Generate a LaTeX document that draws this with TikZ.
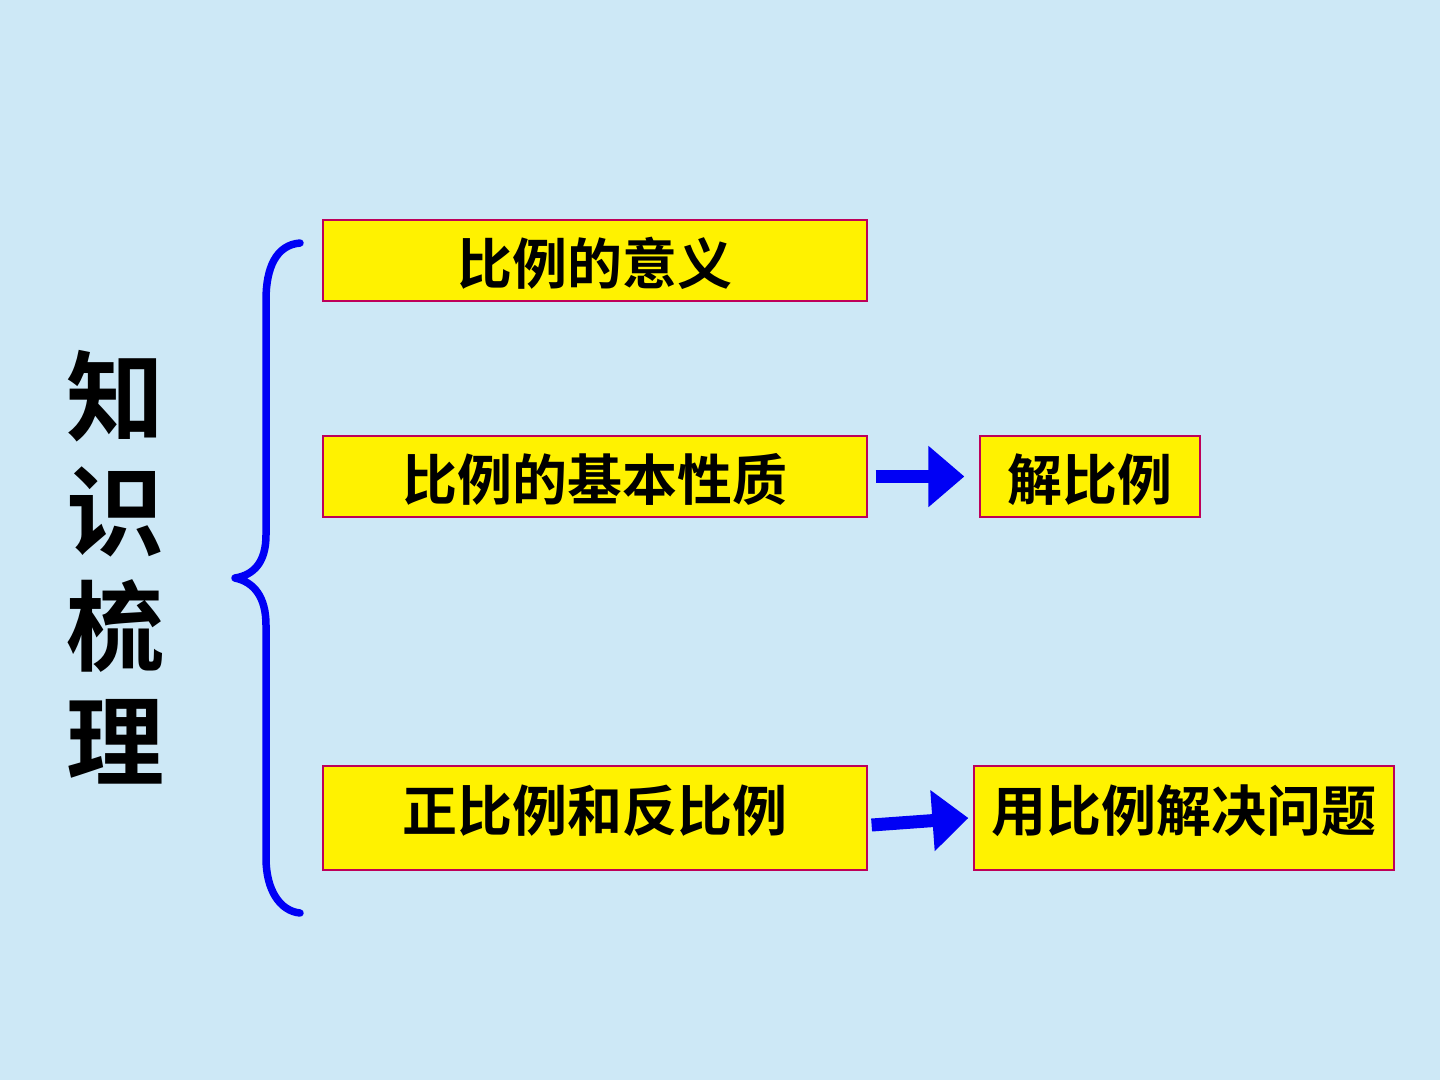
\documentclass[tikz,border=0pt]{standalone}
\usepackage{fontspec}
\newfontfamily\cjk{Noto Sans CJK SC Bold}
\usetikzlibrary{arrows.meta}
\definecolor{bgblue}{RGB}{205,232,246}
\definecolor{boxline}{RGB}{190,0,90}
\definecolor{bracecol}{RGB}{0,0,245}
\newcommand{\shifttxt}[2]{\raisebox{#1}[\height][\depth]{#2}}
\tikzset{
  ybox/.style={draw=boxline, line width=1.2pt, fill=yellow, inner sep=0pt,
    font=\cjk\fontsize{55}{60}\selectfont},
  blockarrow/.style={line width=13pt, draw=bracecol,
    -{Triangle[length=36pt,width=59pt]}}
}
\begin{document}
\begin{tikzpicture}[x=1pt,y=-1pt]
\fill[bgblue] (0,0) rectangle (1440,1080);
\useasboundingbox (0,0) rectangle (1440,1080);
% title
\node[font=\cjk\fontsize{98}{115}\selectfont, align=center, inner sep=0pt] (title) at (115,567) {知\\识\\梳\\理};
% brace
\draw[bracecol, line width=7.5pt, line cap=round, line join=round]
  (300,243) .. controls (276,245) and (266,268) .. (266,300)
  -- (266,535) .. controls (266,562) and (254,575) .. (235,578)
  .. controls (254,582) and (266,597) .. (266,625)
  -- (266,858) .. controls (266,890) and (280,911) .. (300,913);
% boxes
\node[ybox, minimum width=544pt, minimum height=81pt] (b1) at (595,260.5) {\shifttxt{-3pt}{比例的意义}};
\node[ybox, minimum width=544pt, minimum height=81pt] (b2) at (595,476.5) {\shifttxt{-3pt}{比例的基本性质}};
\node[ybox, minimum width=544pt, minimum height=104pt] (b3) at (595,818) {\shifttxt{7pt}{正比例和反比例}};
\node[ybox, minimum width=220pt, minimum height=81pt] (b4) at (1090,476.5) {\shifttxt{-3pt}{解比例}};
\node[ybox, minimum width=420pt, minimum height=104pt] (b5) at (1184,818) {\shifttxt{7pt}{用比例解决问题}};
% arrows
\draw[blockarrow] ([xshift=8pt]b2.east) -- ([xshift=-15pt]b4.west);
\draw[blockarrow] ([xshift=4pt,yshift=-7pt]b3.east) -- ([xshift=-5pt]b5.west);
\end{tikzpicture}
\end{document}
